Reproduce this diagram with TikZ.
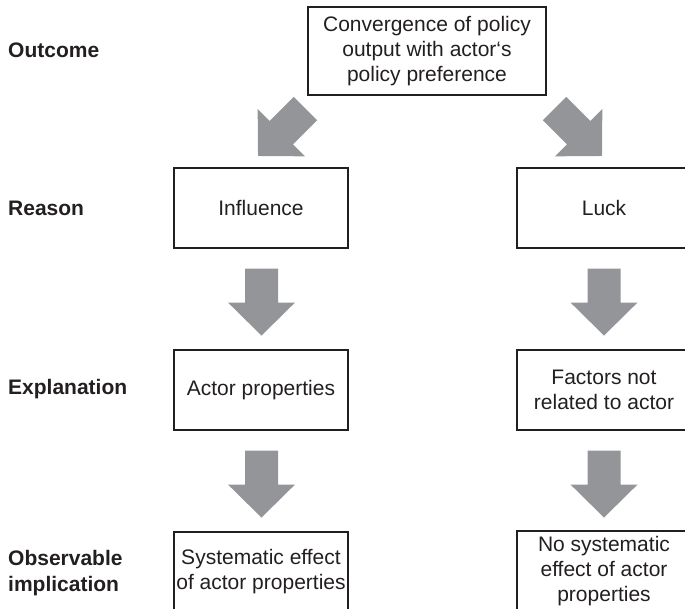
\documentclass[tikz,border=0pt]{standalone}
\usepackage{fontspec}
\setmainfont{Liberation Sans}
\usetikzlibrary{calc}
\begin{document}
\begin{tikzpicture}[x=1pt,y=-1pt,
  every node/.style={font=\fontsize{21}{25}\selectfont, text=inkdark},
  box/.style={draw=inkdark, line width=1.1pt, minimum width=174pt, minimum height=80pt,
              inner sep=0pt, align=center},
  rowlabel/.style={anchor=west, align=left, inner sep=0pt,
              font=\fontsize{21}{26}\selectfont\bfseries},
  blockarrow/.pic={\fill[arrowgray] (-16.5,0) -- (16.5,0) -- (16.5,34) -- (33.5,34)
              -- (0,67) -- (-33.5,34) -- (-16.5,34) -- cycle;}
]
\definecolor{inkdark}{RGB}{35,31,32}
\definecolor{arrowgray}{RGB}{147,149,152}
\useasboundingbox (0,0) rectangle (685,608);
\clip (0,0) rectangle (685,608);

% row labels
\node[rowlabel] (lout) at (8,50) {Outcome};
\node[rowlabel] (lrea) at (8,208) {Reason};
\node[rowlabel] (lexp) at (8,389) {Explanation};
\node[rowlabel] (lobs) at (8,573) {Observable\\implication};

% boxes
\node[box, minimum width=238pt, minimum height=88pt] (out) at (427,51)
  {Convergence of policy\\output with actor‘s\\policy preference};
\node[box] (infl) at (261,208) {Influence};
\node[box] (luck) at (604,208) {Luck};
\node[box] (actor) at (261,390) {Actor properties};
\node[box] (fact) at (604,390) {Factors not\\related to actor};
\node[box] (sys) at (261,572) {Systematic effect\\of actor properties};
\node[box] (nosys) at (604,571) {No systematic\\effect of actor\\properties};

% block arrows
\coordinate (dl) at (305.4,108.6);
\coordinate (dr) at (554.6,108.6);
\pic[rotate=-45] at (dl) {blockarrow};
\pic[rotate=45] at (dr) {blockarrow};
\pic at ($(infl.south)+(0.5,20)$) {blockarrow};
\pic at ($(luck.south)+(0,20)$) {blockarrow};
\pic at ($(actor.south)+(0.5,20)$) {blockarrow};
\pic at ($(fact.south)+(0,20)$) {blockarrow};
\end{tikzpicture}
\end{document}
